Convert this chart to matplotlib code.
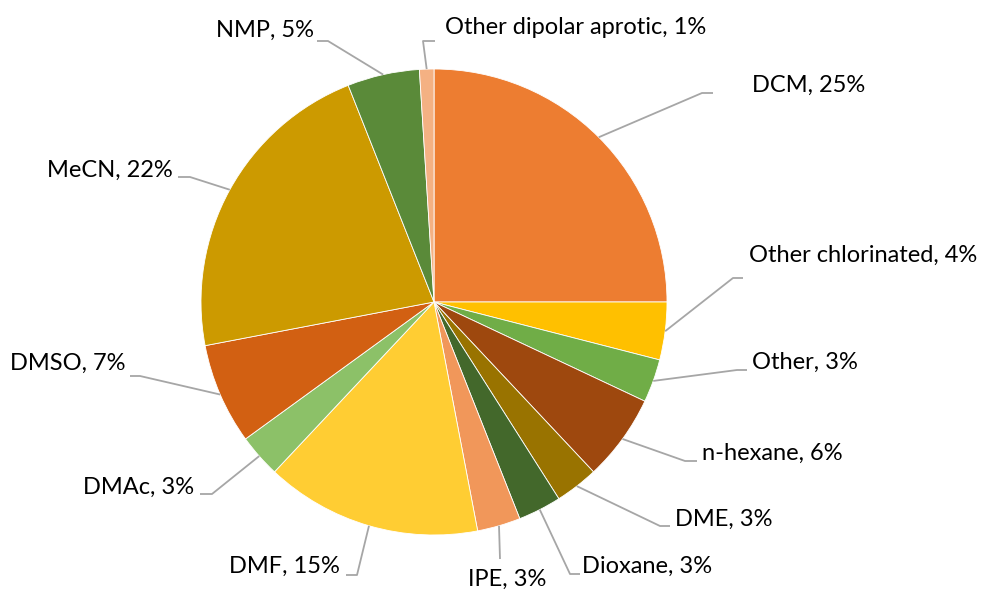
import numpy as np
import matplotlib.pyplot as plt

# data
solvents = ["DCM", "Other chlorinated", "Other", "n-hexane", "DME", "Dioxane",
            "IPE", "DMF", "DMAc", "DMSO", "MeCN", "NMP", "Other dipolar aprotic"]
shares = [25, 4, 3, 6, 3, 3, 3, 15, 3, 7, 22, 5, 1]
colors = ["#ED7D31", "#FFC000", "#70AD47", "#9E480E", "#997300", "#43682B",
          "#F1975A", "#FFCD33", "#8CC168", "#D26012", "#CC9A00", "#5A8A39", "#F4B183"]

W, H = 989, 592

# label layout in pixels (y from top): text anchor, ha, leader knee, leader end
label_pos = [
    (752, 85, "left", (702, 93), (713, 93)),
    (749, 255, "left", (733, 278), (743, 278)),
    (752, 362, "left", (737, 370), (747, 370)),
    (702, 453, "left", (685, 461), (697, 461)),
    (675, 519, "left", (660, 526), (670, 526)),
    (582, 566, "left", (570, 574), (580, 574)),
    (507, 579, "center", (500, 559), (500, 559)),
    (340, 566, "right", (357, 575), (346, 575)),
    (194, 487, "right", (212, 494), (200, 494)),
    (126, 363, "right", (140, 376), (130, 376)),
    (173, 170, "right", (190, 177), (178, 177)),
    (314, 30, "right", (328, 41), (317, 41)),
    (445, 27, "left", (423, 41), (435, 41)),
]

plt.rcParams['font.family'] = ['Lato', 'DejaVu Sans']

fig = plt.figure(figsize=(W / 100, H / 100), dpi=100)
ax = fig.add_axes([0, 0, 1, 1])

cx, cy, r = 434, H - 302, 233

wedges, _ = ax.pie(shares, colors=colors, startangle=90, counterclock=False,
                   center=(cx, cy), radius=r, frame=True,
                   wedgeprops=dict(edgecolor='white', linewidth=0.6))
ax.set_xlim(0, W)
ax.set_ylim(0, H)
ax.set_aspect('equal')
ax.axis('off')

# labels with leader lines from the middle of each wedge
for w, name, val, (tx, ty, ha, knee, end) in zip(wedges, solvents, shares, label_pos):
    mid = np.deg2rad((w.theta1 + w.theta2) / 2)
    sx = cx + r * np.cos(mid)
    sy = cy + r * np.sin(mid)
    xs = [sx, knee[0], end[0]]
    ys = [sy, H - knee[1], H - end[1]]
    ax.plot(xs, ys, color='#A6A6A6', lw=1.3, solid_capstyle='butt')
    ax.text(tx, H - ty, f"{name}, {val}%", ha=ha, va='center',
            fontsize=17, color='#000000')

fig.savefig("out.png", dpi=100)
